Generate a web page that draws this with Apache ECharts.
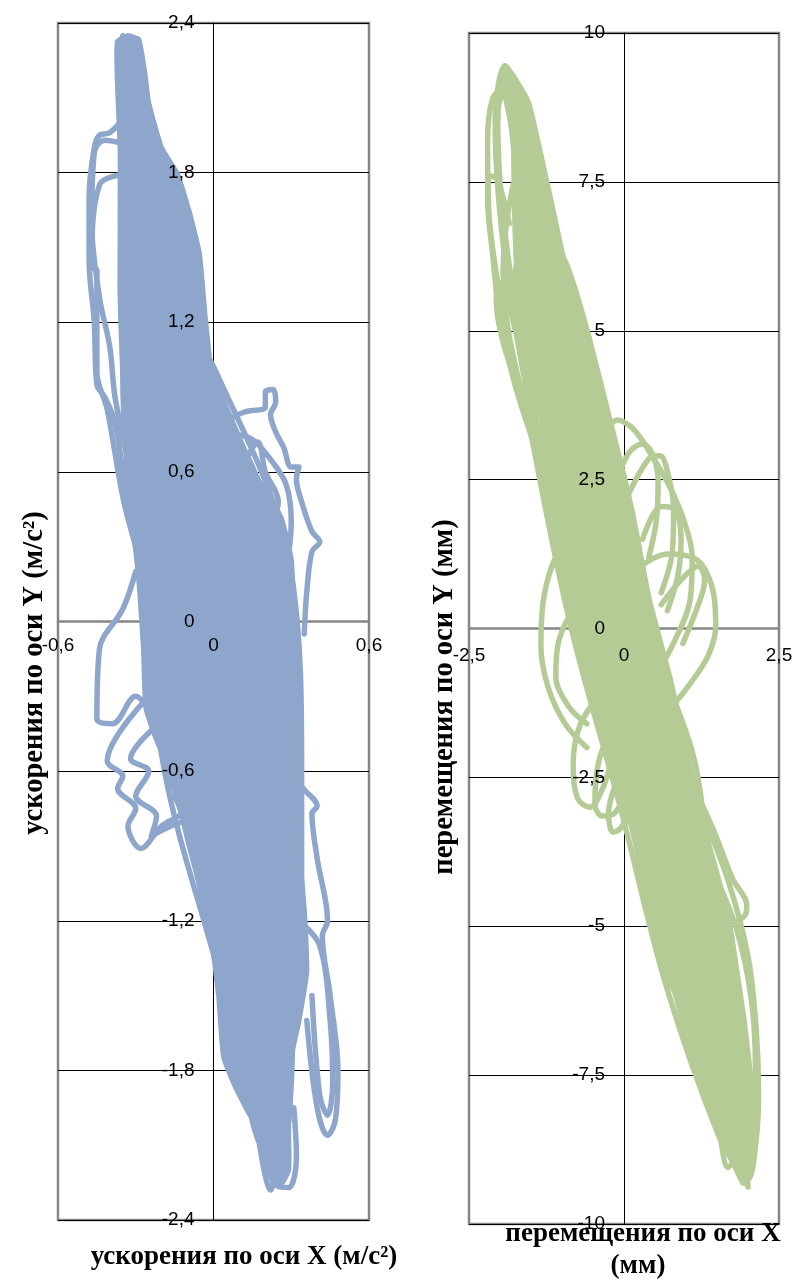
<!DOCTYPE html>
<html>
<head>
<meta charset="utf-8">
<script src="https://cdn.jsdelivr.net/npm/echarts@6/dist/echarts.min.js"></script>
<style>
html,body{margin:0;padding:0;background:#fff;}
#chart{width:797px;height:1282px;}
</style>
</head>
<body>
<div id="chart"></div>
<script>
// Phase trajectories: accelerations (m/s^2) and displacements (mm), Y against X.

// ---- acceleration: region swept densely by the orbit ----
const accelCore = [
  [-0.38,2.33],[-0.33,2.36],[-0.28,2.34],[-0.255,2.2],[-0.24,2.08],[-0.19,1.9],[-0.13,1.8],[-0.085,1.65],[-0.045,1.48],[-0.02,1.2],
  [0.0,1.0],[0.015,0.8],[0.1,0.66],[0.2,0.55],[0.27,0.42],[0.31,0.25],[0.32,0.0],[0.325,-0.3],[0.33,-0.6],[0.34,-0.9],
  [0.36,-1.15],[0.37,-1.4],[0.34,-1.6],[0.3,-1.8],[0.3,-2.05],[0.3,-2.2],[0.27,-2.26],[0.22,-2.25],[0.19,-2.08],[0.13,-1.98],
  [0.08,-1.88],[0.03,-1.75],[0.01,-1.5],[-0.02,-1.25],[-0.06,-1.05],[-0.09,-0.8],[-0.15,-0.62],[-0.22,-0.5],[-0.27,-0.35],[-0.28,-0.1],
  [-0.3,0.2],[-0.32,0.45],[-0.34,0.7],[-0.36,1.0],[-0.37,1.3],[-0.37,1.6],[-0.37,1.9],[-0.38,2.15]
];

// ---- acceleration trajectory, main orbit ----
const accelPath = [
  [-0.33,2.30],[-0.238,1.8],[-0.152,1.0],[0.035,0.2],[0.097,-0.6],[0.192,-1.4],[0.225,-2.0],[0.24,-2.25],[0.149,-2.0],[0.06,-1.4],[-0.119,-0.6],[-0.2,0.2],[-0.296,1.0],
  [-0.29,1.90],[-0.08,1.0],[0.152,0.2],[0.205,-0.6],[0.258,-1.4],[0.19,-1.70],[0.126,-1.4],[-0.011,-0.6],[-0.083,0.2],[-0.224,1.0],
  [-0.22,1.50],[-0.008,1.0],[0.27,0.2],[0.313,-0.6],[0.17,-1.40],[-0.173,-0.6],[-0.26,0.2],[-0.332,1.0],[-0.358,1.8],
  [-0.35,2.35],[-0.214,1.8],[-0.116,1.0],[0.094,0.2],[0.151,-0.6],[0.224,-1.4],[0.17,-2.0],[0.093,-1.4],[-0.065,-0.6],[-0.142,0.2],[-0.26,1.0],
  [-0.26,1.70],[-0.044,1.0],[0.212,0.2],[0.259,-0.6],[0.29,-1.4],[0.282,-2.0],[0.24,-2.20],[0.206,-2.0],[0.158,-1.4],[0.043,-0.6],[-0.025,0.2],[-0.188,1.0],
  [-0.18,1.30],[0.01,1.0],[0.30,0.2],[0.34,-0.6],[0.34,-1.4],[0.19,-1.62],[0.043,-1.4],[-0.146,-0.6],[-0.231,0.2],[-0.314,1.0],[-0.346,1.8],
  [-0.31,2.20],[-0.226,1.8],[-0.134,1.0],[0.064,0.2],[0.124,-0.6],[0.208,-1.4],[0.16,-1.90],[0.109,-1.4],[-0.038,-0.6],[-0.113,0.2],[-0.242,1.0],
  [-0.26,1.80],[-0.062,1.0],[0.182,0.2],[0.232,-0.6],[0.274,-1.4],[0.23,-1.70],[0.175,-1.4],[0.07,-0.6],[0.005,0.2],[-0.17,1.0],[-0.25,1.8],
  [-0.28,2.00],[-0.154,1.8],[-0.026,1.0],[0.241,0.2],[0.286,-0.6],[0.307,-1.4],[0.291,-2.0],[0.22,-2.14],[0.158,-2.0],[0.076,-1.4],[-0.092,-0.6],[-0.172,0.2],[-0.278,1.0],
  [-0.22,1.60],[-0.098,1.0],[0.123,0.2],[0.178,-0.6],[0.241,-1.4],[0.19,-1.80],[0.142,-1.4],[0.016,-0.6],[-0.054,0.2],[-0.206,1.0],[-0.274,1.8],
  [-0.36,2.25],[-0.25,1.8],[-0.17,1.0],[0.005,0.2],[0.07,-0.6],[0.15,-1.30],[-0.17,-0.6],[-0.29,0.2],[-0.35,1.0],
  [-0.22,1.40],[-0.033,1.0],[0.229,0.2],[0.275,-0.6],[0.30,-1.4],[0.287,-2.0],[0.25,-2.17],[0.21,-2.0],[0.192,-1.4],[0.097,-0.6],[0.035,0.2],[-0.152,1.0],
  [-0.30,1.95],[-0.127,1.0],[0.076,0.2],[0.135,-0.6],[0.215,-1.4],[0.14,-1.75],[0.05,-1.4],[-0.135,-0.6],[-0.219,0.2],[-0.307,1.0],[-0.341,1.8],
  [-0.29,2.10],[-0.183,1.8],[-0.069,1.0],[0.17,0.2],[0.221,-0.6],[0.267,-1.4],[0.2,-1.95],[0.116,-1.4],[-0.027,-0.6],[-0.101,0.2],
  [-0.18,1.20],[0.282,0.2],[0.324,-0.6],[0.17,-1.45],[0.027,-0.6],[-0.042,0.2],[-0.199,1.0],[-0.269,1.8],
  [-0.32,2.33],[-0.207,1.8],[-0.105,1.0],[0.111,0.2],[0.167,-0.6],[0.234,-1.4],[0.249,-2.0],[0.22,-2.28],[0.162,-2.0],[0.083,-1.4],[-0.081,-0.6],[-0.16,0.2],[-0.271,1.0],
  [-0.22,1.55],[-0.055,1.0],[0.194,0.2],[0.243,-0.6],[0.281,-1.4],[0.245,-1.68],[0.208,-1.4],[0.124,-0.6],[0.064,0.2],[-0.134,1.0],
  [-0.26,1.85],[-0.141,1.0],[0.052,0.2],[0.113,-0.6],[0.201,-1.4],[0.17,-1.95],[0.036,-1.4],[-0.157,-0.6],[-0.243,0.2],[-0.321,1.0],
  [-0.18,1.35],[-0.019,1.0],[0.253,0.2],[0.297,-0.6],[0.314,-1.4],[0.22,-1.85],[0.135,-1.4],[0.005,-0.6],[-0.066,0.2],[-0.213,1.0],[-0.279,1.8],
  [-0.31,2.15],[-0.197,1.8],[-0.091,1.0],[0.135,0.2],[0.189,-0.6],[0.248,-1.4],[0.18,-1.62],[0.102,-1.4],[-0.049,-0.6],[-0.125,0.2],[-0.249,1.0],
  [-0.26,1.75],[-0.163,1.0],[0.017,0.2],[0.081,-0.6],[0.182,-1.4],[0.219,-2.0],[0.225,-2.12],[0.2,-2.0],[0.168,-1.4],[0.059,-0.6],[-0.007,0.2],[-0.177,1.0],
  [-0.22,1.45],[-0.04,1.0],[0.217,0.2],[0.264,-0.6],[0.1,-1.28],[-0.103,-0.6],[-0.184,0.2],[-0.285,1.0],[-0.327,1.8],
  [-0.34,2.28],[-0.212,1.8],[-0.112,1.0],[0.099,0.2],[0.156,-0.6],[0.228,-1.4],[0.14,-1.90],[0.017,-1.4],[-0.189,-0.6],[-0.278,0.2],[-0.343,1.0],
  [-0.26,1.65],[-0.076,1.0],[0.158,0.2],[0.21,-0.6],[0.261,-1.4],[0.264,-2.0],[0.24,-2.20],[0.219,-2.0],[0.182,-1.4],[0.081,-0.6],[0.017,0.2],[-0.163,1.0],
  [-0.18,1.25],[0.288,0.2],[0.329,-0.6],[0.333,-1.4],[0.23,-1.70],[0.122,-1.4],[-0.016,-0.6],[-0.089,0.2],[-0.228,1.0],[-0.288,1.8],
  [-0.27,2.05],[-0.226,1.8],[-0.134,1.0],[0.064,0.2],[0.124,-0.6],[0.208,-1.4],[0.21,-2.00],[0.155,-1.4],[0.038,-0.6],[-0.03,0.2]
];

// ---- acceleration trajectory, excursions on the left side ----
const accelStrandsLeft = [
  [[-0.32,2.05],[-0.4,1.96],[-0.44,1.95],[-0.46,1.9],[-0.48,1.7],[-0.48,1.45],[-0.46,1.2],[-0.45,0.95],[-0.42,0.9],[-0.38,0.8],[-0.35,0.6],[-0.32,0.4]],
  [[-0.3,1.9],[-0.42,1.93],[-0.46,1.88],[-0.47,1.6],[-0.44,1.3],[-0.4,1.1],[-0.38,0.9],[-0.33,0.65]],
  [[-0.28,1.8],[-0.44,1.75],[-0.47,1.42],[-0.45,1.41],[-0.45,1.0],[-0.41,0.85],[-0.35,0.5],[-0.3,0.3]],
  [[-0.3,0.2],[-0.35,0.05],[-0.44,-0.11],[-0.45,-0.39],[-0.39,-0.41],[-0.3,-0.3],[-0.25,-0.35]],
  [[-0.25,-0.3],[-0.41,-0.56],[-0.35,-0.62],[-0.37,-0.67],[-0.3,-0.75],[-0.33,-0.82],[-0.28,-0.91],[-0.2,-0.82],[-0.12,-0.76],[-0.15,-0.7],[-0.08,-0.65]],
  [[-0.2,-0.4],[-0.32,-0.55],[-0.25,-0.6],[-0.3,-0.7],[-0.22,-0.78],[-0.24,-0.86],[-0.1,-0.8],[-0.05,-0.9]]
];

// ---- acceleration trajectory, excursions on the right side ----
const accelStrandsRight = [
  [[0.0,0.7],[0.05,0.8],[0.12,0.84],[0.2,0.86],[0.2,0.92],[0.23,0.93],[0.24,0.88],[0.22,0.83],[0.24,0.76],[0.27,0.7],[0.3,0.62],[0.33,0.62],[0.32,0.57],[0.34,0.48],[0.38,0.36],[0.41,0.32],[0.38,0.28],[0.36,0.12],[0.35,-0.05]],
  [[0.02,0.6],[0.08,0.75],[0.15,0.73],[0.22,0.65],[0.28,0.55],[0.3,0.4],[0.28,0.2]],
  [[0.05,0.7],[0.1,0.62],[0.17,0.72],[0.2,0.6],[0.25,0.48],[0.22,0.35],[0.27,0.25]],
  [[0.3,-0.55],[0.34,-0.66],[0.4,-0.74],[0.38,-0.77],[0.4,-0.95],[0.44,-1.2],[0.42,-1.26],[0.45,-1.5],[0.48,-1.8],[0.47,-2.0],[0.44,-2.06],[0.4,-1.95],[0.36,-1.6]],
  [[0.33,-1.2],[0.41,-1.3],[0.45,-1.6],[0.46,-1.85],[0.44,-1.98],[0.41,-1.9],[0.38,-1.5]],
  [[0.2,-1.9],[0.2,-2.1],[0.24,-2.26],[0.29,-2.27],[0.32,-2.15],[0.31,-1.95]]
];

// ---- displacement: region swept densely by the orbit ----
const dispCore = [
  [-2.02,9.3],[-1.9,9.42],[-1.78,9.35],[-1.5,8.85],[-1.2,7.5],[-0.88,6.0],[-0.55,5.0],[-0.18,3.5],[0.17,2.0],[0.45,0.5],
  [0.78,-0.8],[1.15,-2.5],[1.47,-4.0],[1.73,-4.9],[1.97,-6.5],[2.12,-7.9],[2.09,-8.8],[2.02,-9.3],[1.9,-9.36],[1.55,-8.6],
  [1.14,-7.5],[0.5,-5.0],[-0.08,-2.5],[-0.57,-1.0],[-0.87,0.5],[-1.27,2.5],[-1.47,5.0],[-1.62,6.0],[-1.72,7.5],[-1.87,8.5]
];

// ---- displacement trajectory, main orbit ----
const dispPath = [
  [-1.90,9.40],[-1.616,8.5],[-1.284,6],[-0.652,3],[-0.07,0],[0.732,-3],[1.382,-6],[1.88,-8.5],[1.95,-9.30],[1.64,-8.5],[0.914,-6],[0.204,-3],[-0.59,0],[-1.184,3],[-1.728,6],
  [-1.78,8.80],[-1.062,6],[-0.386,3],[0.19,0],[0.996,-3],[1.616,-6],[1.8,-8.5],[1.148,-6],[0.468,-3],[-0.33,0],[-0.918,3],[-1.506,6],
  [-1.60,7.0],[-0.895,6],[-0.187,3],[0.385,0],[1.194,-3],[1.792,-6],[1.6,-7.2],[0.797,-6],[0.072,-3],[-0.72,0],[-1.317,3],[-1.839,6],[-2.036,8.5],
  [-1.92,9.20],[-1.532,8.5],[-1.173,6],[-0.519,3],[0.06,0],[0.864,-3],[1.499,-6],[1.94,-8.5],[1.95,-9.0],[1.70,-8.5],[1.031,-6],[0.336,-3],[-0.46,0],[-1.051,3],[-1.617,6],
  [-1.72,8.20],[-0.951,6],[-0.253,3],[0.32,0],[1.128,-3],[1.733,-6],[1.65,-7.8],[1.265,-6],[0.6,-3],[-0.2,0],[-0.785,3],
  [-1.35,6.0],[-0.12,3],[0.45,0],[1.26,-3],[1.35,-6.2],[0.006,-3],[-0.785,0],[-1.384,3],[-1.895,6],[-2.078,8.5],
  [-1.92,9.45],[-1.574,8.5],[-1.229,6],[-0.586,3],[-0.005,0],[0.798,-3],[1.441,-6],[1.91,-8.5],[2.0,-9.38],[1.67,-8.5],[0.973,-6],[0.27,-3],[-0.525,0],[-1.118,3],[-1.673,6],
  [-1.68,7.60],[-1.007,6],[-0.32,3],[0.255,0],[1.062,-3],[1.675,-6],[1.9,-8.8],[1.207,-6],[0.534,-3],[-0.265,0],[-0.852,3],[-1.451,6],
  [-1.75,8.50],[-1.118,6],[-0.453,3],[0.125,0],[0.93,-3],[1.558,-6],[1.45,-6.9],[0.856,-6],[0.138,-3],[-0.655,0],[-1.251,3],
  [-1.25,5.5],[-0.147,3],[0.424,0],[1.234,-3],[1.2,-5.5],[0.402,-3],[-0.395,0],[-0.985,3],[-1.562,6],[-1.826,8.5],
  [-1.92,9.0],[-1.658,8.5],[-1.34,6],[-0.719,3],[-0.135,0],[0.666,-3],[1.324,-6],[1.85,-8.5],[1.92,-9.2],[1.52,-8.5],[0.68,-6],[-0.06,-3],[-0.85,0],[-1.45,3],[-1.95,6],
  [-1.62,7.80],[-0.973,6],[-0.28,3],[0.294,0],[1.102,-3],[1.71,-6],[1.62,-7.5],[1.324,-6],[0.666,-3],[-0.135,0],[-0.719,3],[-1.34,6],
  [-1.8,8.90],[-1.195,6],[-0.546,3],[0.034,0],[0.838,-3],[1.476,-6],[1.75,-8.2],[0.891,-6],[0.178,-3],[-0.616,0],[-1.211,3],[-1.75,6],
  [-1.45,6.5],[-0.929,6],[-0.226,3],[0.346,0],[1.154,-3],[1.4,-6.0],[0.442,-3],[-0.356,0],[-0.945,3],[-1.528,6],[-1.801,8.5],
  [-1.95,9.30],[-1.599,8.5],[-1.262,6],[-0.625,3],[-0.044,0],[0.758,-3],[1.405,-6],[1.892,-8.5],[1.98,-9.1],[1.688,-8.5],[1.008,-6],[0.31,-3],[-0.486,0],[-1.078,3],[-1.639,6],
  [-1.7,8.0],[-1.04,6],[-0.359,3],[0.216,0],[1.022,-3],[1.639,-6],[1.82,-8.6],[1.242,-6],[0.574,-3],[-0.226,0],[-0.812,3],[-1.417,6],
  [-1.6,7.2],[-1.151,6],[-0.492,3],[0.086,0],[0.89,-3],[1.522,-6],[1.5,-7.0],[0.774,-6],[0.046,-3],[-0.746,0],[-1.344,3],[-1.861,6],[-2.05,8.5],
  [-1.9,9.10],[-1.633,8.5],[-1.306,6],[-0.679,3],[-0.096,0],[0.706,-3],[1.359,-6],[1.868,-8.5],[1.9,-8.9],[1.712,-8.5],[1.054,-6],[0.362,-3],[-0.434,0],[-1.024,3],[-1.595,6],
  [-1.45,6.8],[-0.884,6],[-0.173,3],[0.398,0],[1.207,-3],[1.803,-6],[1.55,-6.7],[1.171,-6],[0.494,-3],[-0.304,0],[-0.891,3],[-1.484,6],
  [-1.75,8.6],[-1.084,6],[-0.413,3],[0.164,0],[0.97,-3],[1.593,-6],[1.988,-8.5],[1.92,-9.0],[1.652,-8.5],[0.937,-6],[0.23,-3],[-0.564,0],[-1.157,3]
];

// ---- displacement trajectory, outer strands near both tips ----
const dispStrandsTop = [
  [[-1.6,8.6],[-1.95,9.05],[-2.12,8.9],[-2.2,8.2],[-2.18,7.0],[-2.05,5.9],[-1.85,4.8],[-1.6,3.8],[-1.3,2.6]],
  [[-1.85,6.8],[-2.05,7.55],[-2.17,7.6],[-2.2,7.2],[-2.12,6.3],[-2.0,5.2],[-1.76,4.1],[-1.45,3.1]],
  [[-1.75,5.0],[-1.95,5.75],[-2.03,5.82],[-2.06,5.5],[-1.95,4.8],[-1.72,4.1],[-1.5,3.4]]
];
const dispStrandsBottom = [
  [[1.1,-2.6],[1.45,-3.4],[1.75,-4.2],[1.98,-4.65],[1.96,-4.8],[1.85,-4.9]],
  [[1.3,-3.2],[1.7,-4.3],[2.0,-5.5],[2.13,-6.7],[2.17,-7.8],[2.12,-8.7],[2.0,-9.25],[1.88,-9.2]],
  [[1.4,-4.0],[1.8,-5.0],[2.05,-6.2],[2.12,-7.4],[2.08,-8.3],[1.9,-8.8]],
  [[1.2,-7.0],[1.5,-8.2],[1.68,-9.05],[1.8,-8.9]]
];

// ---- displacement trajectory, small loops around the origin ----
const dispLoops = [
  [[-0.45,2.5],[-0.3,3.2],[-0.11,3.5],[0.15,3.35],[0.45,2.9],[0.75,2.35],[0.97,1.8],[1.1,1.2],[1.07,0.5],[0.82,-0.2],[0.45,-0.9]],
  [[0.2,1.0],[0.7,1.25],[1.18,1.15],[1.42,0.7],[1.48,0.05],[1.36,-0.45],[1.05,-0.95],[0.7,-1.4]],
  [[-0.15,2.4],[0.08,2.95],[0.3,3.1],[0.45,2.95],[0.55,2.5],[0.52,1.8],[0.4,1.2]],
  [[0.05,2.2],[0.4,2.85],[0.58,2.9],[0.72,2.55],[0.8,2.0],[0.78,1.3],[0.6,0.6]],
  [[0.3,1.5],[0.6,2.05],[0.82,2.0],[0.92,1.5],[0.87,0.9],[0.7,0.3]],
  [[0.6,0.4],[0.95,0.85],[1.2,1.05],[1.3,0.8],[1.18,0.35],[0.95,-0.25]],
  [[-0.5,1.6],[-1.0,1.35],[-1.28,0.6],[-1.34,-0.3],[-1.22,-1.0],[-0.95,-1.6],[-0.6,-2.0]],
  [[-0.4,0.5],[-0.8,0.3],[-1.05,-0.2],[-1.1,-0.8],[-0.9,-1.3],[-0.6,-1.6]],
  [[-0.3,-1.0],[-0.7,-1.6],[-0.82,-2.3],[-0.75,-2.85],[-0.55,-3.0],[-0.35,-2.7],[-0.2,-2.2]],
  [[-0.1,-1.5],[-0.4,-2.2],[-0.47,-2.95],[-0.35,-3.15],[-0.15,-3.1],[0.0,-2.8]],
  [[-0.05,-2.4],[-0.25,-3.1],[-0.18,-3.42],[-0.05,-3.35],[0.05,-3.1]]
];

// ---- axis ranges: [min, max, step] ----
const accelXRange = [-0.6, 0.6, 0.6];
const accelYRange = [-2.4, 2.4, 0.6];
const dispXRange = [-2.5, 2.5, 2.5];
const dispYRange = [-10, 10, 2.5];

// ---- titles ----
const accelYTitle = 'ускорения по оси Y (м/с²)';
const accelXTitle = 'ускорения по оси X (м/с²)';
const dispYTitle = 'перемещения по оси Y (мм)';
const dispXTitle = ['перемещения по оси X', '(мм)'];

const BLUE = '#8EA6CB';
const GREEN = '#B5CB95';
const FRAME = '#868686';
const SANS = '"Liberation Sans", Arial, sans-serif';
const SERIF = '"Liberation Serif", "Times New Roman", serif';

// plot rectangles [left, top, width, height]
const accelRect = [58, 23, 311, 1197];
const dispRect = [469, 33, 310, 1191];

function fmt(v) {
  let r = Math.round(v * 10) / 10;
  if (r === 0) r = 0;
  return String(r).replace('.', ',');
}

// Lines (axis through the origin, horizontal grid) sit beneath the trajectory;
// a second axis pair, shifted onto the origin, carries the tick labels above it.
function lineAxisX(grid, range, yIdx) {
  return {
    gridIndex: grid, type: 'value', min: range[0], max: range[1], interval: range[2],
    position: 'bottom', z: 0,
    axisLine: { show: true, onZero: true, onZeroAxisIndex: yIdx, lineStyle: { color: FRAME, width: 2.5 } },
    axisTick: { show: false }, axisLabel: { show: false }, splitLine: { show: false }
  };
}
function labelAxisX(grid, range, rect, margin) {
  return {
    gridIndex: grid, type: 'value', min: range[0], max: range[1], interval: range[2],
    position: 'bottom', offset: -(rect[3] / 2), z: 10,
    axisLine: { show: false, onZero: false },
    axisTick: { show: false }, splitLine: { show: false },
    axisLabel: { margin: margin, fontSize: 19, color: '#000', fontFamily: SANS, formatter: fmt, showMinLabel: true, showMaxLabel: true }
  };
}
function lineAxisY(grid, range, xIdx, ticks) {
  return {
    gridIndex: grid, type: 'value', min: range[0], max: range[1], interval: range[2],
    position: 'left', z: 0,
    axisLine: { show: true, onZero: true, onZeroAxisIndex: xIdx, lineStyle: { color: '#000', width: 1 } },
    axisTick: { show: ticks, length: 6, lineStyle: { color: '#000', width: 1 } },
    axisLabel: { show: false },
    splitLine: { show: true, lineStyle: { color: '#000', width: 1 } }
  };
}
function labelAxisY(grid, range, rect, margin) {
  return {
    gridIndex: grid, type: 'value', min: range[0], max: range[1], interval: range[2],
    position: 'left', offset: -(rect[2] / 2), z: 10,
    axisLine: { show: false, onZero: false },
    axisTick: { show: false }, splitLine: { show: false },
    axisLabel: { margin: margin, fontSize: 19, color: '#000', fontFamily: SANS, formatter: fmt, showMinLabel: true, showMaxLabel: true }
  };
}

function path(data, idx, color) {
  return {
    type: 'line', xAxisIndex: idx, yAxisIndex: idx, data: data,
    symbol: 'none', showSymbol: false, smooth: 0.35, silent: true, z: 2,
    lineStyle: { color: color, width: 5.5, cap: 'round', join: 'round' }
  };
}

function area(poly, idx, color) {
  return {
    type: 'custom', coordinateSystem: 'cartesian2d', xAxisIndex: idx, yAxisIndex: idx,
    data: poly, encode: { x: 0, y: 1 }, silent: true, z: 1,
    renderItem: function (params, api) {
      if (params.dataIndex !== 0) return null;
      return {
        type: 'polygon',
        shape: { points: poly.map(p => api.coord(p)), smooth: 0.15 },
        style: { fill: color }
      };
    }
  };
}

const series = [];
series.push(area(accelCore, 0, BLUE));
series.push(path(accelPath, 0, BLUE));
accelStrandsLeft.forEach(d => series.push(path(d, 0, BLUE)));
accelStrandsRight.forEach(d => series.push(path(d, 0, BLUE)));
series.push(area(dispCore, 2, GREEN));
series.push(path(dispPath, 2, GREEN));
dispStrandsTop.forEach(d => series.push(path(d, 2, GREEN)));
dispStrandsBottom.forEach(d => series.push(path(d, 2, GREEN)));
dispLoops.forEach(d => series.push(path(d, 2, GREEN)));

function title(text, x, y, rot, size) {
  return {
    type: 'text', x: x, y: y, rotation: rot, z: 20,
    style: { text: text, fill: '#000', font: 'bold ' + size + 'px ' + SERIF,
             textAlign: 'center', textVerticalAlign: 'middle', align: 'center', verticalAlign: 'middle' }
  };
}

const chart = echarts.init(document.getElementById('chart'), null, { renderer: 'canvas' });
chart.setOption({
  animation: false,
  backgroundColor: '#fff',
  grid: [
    { left: accelRect[0], top: accelRect[1], width: accelRect[2], height: accelRect[3], show: true, borderColor: FRAME, borderWidth: 2.5, backgroundColor: 'transparent' },
    { left: dispRect[0], top: dispRect[1], width: dispRect[2], height: dispRect[3], show: true, borderColor: FRAME, borderWidth: 2.5, backgroundColor: 'transparent' }
  ],
  xAxis: [
    lineAxisX(0, accelXRange, 0),
    labelAxisX(0, accelXRange, accelRect, 15),
    lineAxisX(1, dispXRange, 2),
    labelAxisX(1, dispXRange, dispRect, 18)
  ],
  yAxis: [
    lineAxisY(0, accelYRange, 0, false),
    labelAxisY(0, accelYRange, accelRect, 19),
    lineAxisY(1, dispYRange, 2, true),
    labelAxisY(1, dispYRange, dispRect, 19)
  ],
  series: series,
  graphic: [
    title(accelYTitle, 35, 673, Math.PI / 2, 28.5),
    title(accelXTitle, 244, 1257, 0, 27),
    title(dispYTitle, 445, 697, Math.PI / 2, 28.5),
    title(dispXTitle[0], 643, 1234, 0, 27),
    title(dispXTitle[1], 638, 1266, 0, 27)
  ]
});
</script>
</body>
</html>
